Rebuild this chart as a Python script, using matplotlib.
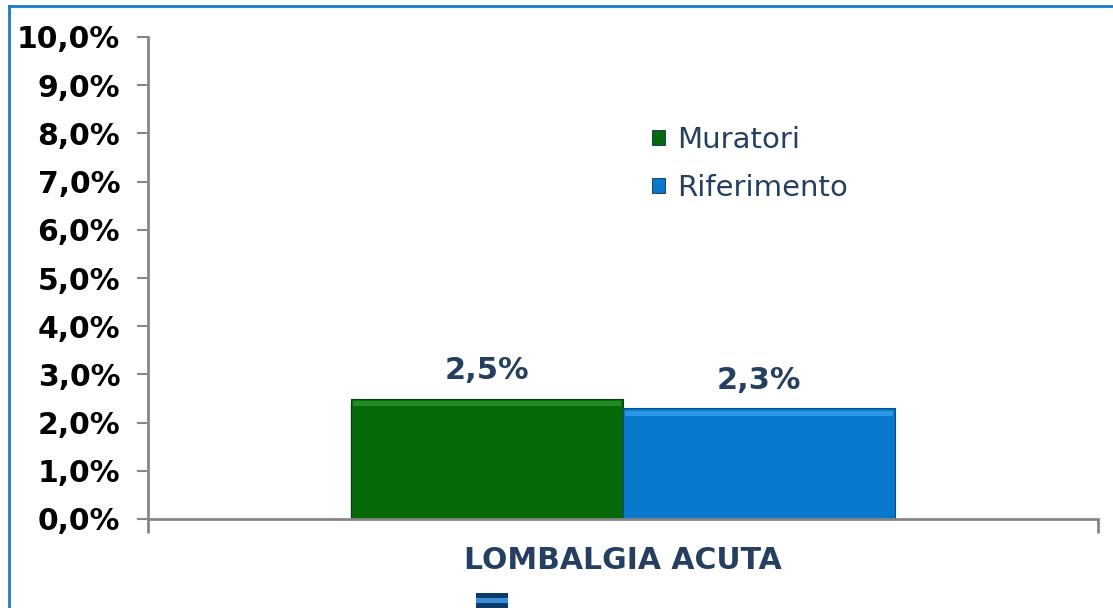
import matplotlib
matplotlib.use("Agg")
import matplotlib.pyplot as plt
import matplotlib.ticker as mticker
from matplotlib.patches import Patch, Rectangle
from matplotlib.lines import Line2D

# ── Data ──────────────────────────────────────────────────────────────────────
category = "LOMBALGIA ACUTA"
series   = ["Muratori", "Riferimento"]
values   = [2.5, 2.3]
labels   = ["2,5%", "2,3%"]
yticks   = [0, 1, 2, 3, 4, 5, 6, 7, 8, 9, 10]

# Colours
GREEN     = "#076A0A"
GREEN_HI  = "#2E9A30"
BLUE      = "#0878CD"
BLUE_HI   = "#3AA4EE"
NAVY      = "#243F60"
AXIS_GREY = "#868686"
FRAME     = "#1A7BC9"

fig = plt.figure(figsize=(11.13, 6.08), dpi=100, facecolor="white")
ax = fig.add_axes([148 / 1113, 1 - 519 / 608, 950 / 1113, 482 / 608])

W = 0.286
xpos = [-W / 2, W / 2]
cols = [GREEN, BLUE]
his  = [GREEN_HI, BLUE_HI]

# soft shadow, bars, bevel highlight at the top
for x, v in zip(xpos, values):
    ax.bar(x, v, width=W * 1.01, bottom=-0.1, color="#000000", alpha=0.10, zorder=1)
for x, v, c, h in zip(xpos, values, cols, his):
    ax.bar(x, v, width=W, color=c, edgecolor="#0B3D0C" if c == GREEN else "#0A4A80",
           linewidth=0.8, zorder=2)
    ax.bar(x, 0.1, width=W * 0.985, bottom=v - 0.16, color=h, alpha=0.7,
           linewidth=0, zorder=3)

for x, v, t in zip(xpos, values, labels):
    ax.text(x, v + 0.28, t, ha="center", va="bottom",
            fontsize=22, fontweight="bold", color=NAVY)

ax.set_xlim(-0.5, 0.5)
ax.set_ylim(0, 10)
ax.set_yticks(yticks)
ax.yaxis.set_major_formatter(mticker.FuncFormatter(lambda y, _: f"{y:.1f}%".replace(".", ",")))
ax.tick_params(axis="y", direction="out", length=8, width=1.5, color=AXIS_GREY,
               labelsize=21.5, pad=12)
for lab in ax.get_yticklabels():
    lab.set_fontweight("bold")

ax.set_xticks([-0.5, 0.5])
ax.set_xticklabels(["", ""])
ax.tick_params(axis="x", direction="out", length=10, width=2, color=AXIS_GREY)
ax.text(0, -0.55, category, transform=ax.transData, ha="center", va="top",
        fontsize=21.5, fontweight="bold", color=NAVY, clip_on=False)

ax.spines[["top", "right"]].set_visible(False)
ax.spines[["left", "bottom"]].set_color(AXIS_GREY)
ax.spines[["left", "bottom"]].set_linewidth(2)
ax.set_facecolor("white")

handles = [Patch(facecolor=c, edgecolor="#0A3050", linewidth=0.6) for c in cols]
leg = ax.legend(handles, series, loc="upper left", bbox_to_anchor=(0.503, 0.87),
                frameon=False, fontsize=21, handlelength=0.45, handleheight=0.45,
                handletextpad=0.4, labelspacing=0.68, labelcolor=NAVY)

# outer frame of the original chart (left and top edges visible)
fig.add_artist(Line2D([9 / 1113, 9 / 1113], [0, 1 - 5.5 / 608], color=FRAME, lw=2))
fig.add_artist(Line2D([9 / 1113, 1], [1 - 5.5 / 608, 1 - 5.5 / 608], color=FRAME, lw=2))

# small cut-off legend key at the bottom edge
for y0, c in [(603, "#0A3B6A"), (598, "#3A8FD8"), (593, "#0A3B6A")]:
    fig.add_artist(Rectangle((476 / 1113, 1 - (y0 + 5) / 608), 32 / 1113, 5 / 608,
                             transform=fig.transFigure, facecolor=c, edgecolor="none"))

fig.savefig("out.png", dpi=100, facecolor="white")
